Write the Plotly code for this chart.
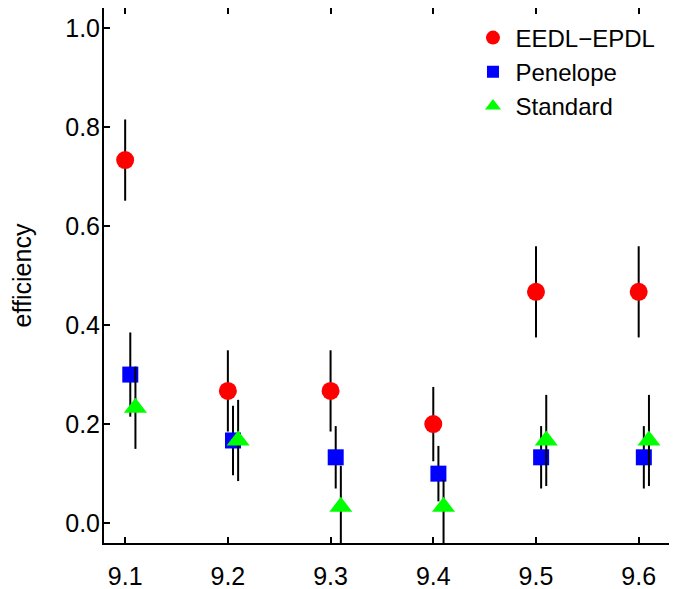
import plotly.graph_objects as go

# ---- data ----
energies = [9.1, 9.2, 9.3, 9.4, 9.5, 9.6]
eedl_eff = [0.733, 0.267, 0.267, 0.200, 0.467, 0.467]
eedl_err = [0.082, 0.082, 0.082, 0.075, 0.092, 0.092]
eedl_err_lo = [0.082, 0.082, 0.082, 0.075, 0.092, 0.092]
pen_eff = [0.300, 0.167, 0.133, 0.100, 0.133, 0.133]
pen_err = [0.085, 0.070, 0.063, 0.056, 0.063, 0.063]
pen_err_lo = [0.085, 0.070, 0.063, 0.056, 0.063, 0.063]
std_eff = [0.233, 0.167, 0.033, 0.033, 0.167, 0.167]
std_err = [0.083, 0.082, 0.083, 0.054, 0.092, 0.092]
std_err_lo = [0.083, 0.082, 0.083, 0.080, 0.092, 0.092]
pen_shift = 0.005
std_shift = 0.010
x_ticks = [9.1, 9.2, 9.3, 9.4, 9.5, 9.6]
y_ticks = [0.0, 0.2, 0.4, 0.6, 0.8, 1.0]

FONT = "Liberation Sans, Arial, Helvetica, sans-serif"

series = [
    ("EEDL\u2212EPDL", energies, eedl_eff, eedl_err, eedl_err_lo, "circle", "#ff0000", 18, 14),
    ("Penelope", [e + pen_shift for e in energies], pen_eff, pen_err, pen_err_lo, "square", "#0000ff", 16, 12),
    ("Standard", [e + std_shift for e in energies], std_eff, std_err, std_err_lo, "triangle-up", "#00ff00", 20, 14),
]

fig = go.Figure()
for name, xs, ys, errs, errs_lo, sym, col, size, lsize in series:
    fig.add_trace(go.Scatter(
        x=xs, y=ys, mode="markers", name=name, showlegend=False,
        marker=dict(symbol=sym, color=col, size=size, line=dict(width=0)),
        error_y=dict(type="data", symmetric=False, array=errs, arrayminus=errs_lo,
                     visible=True, color="black", thickness=2, width=0),
        cliponaxis=True,
    ))
for name, xs, ys, errs, errs_lo, sym, col, size, lsize in series:
    fig.add_trace(go.Scatter(
        x=[None], y=[None], mode="markers", name=name, showlegend=True,
        marker=dict(symbol=sym, color=col, size=lsize, line=dict(width=0)),
    ))

fig.update_layout(
    width=669, height=581,
    margin=dict(l=96, r=0, t=0, b=46, pad=0, autoexpand=False),
    paper_bgcolor="white", plot_bgcolor="white",
    font=dict(family=FONT, size=25, color="black"),
    showlegend=True,
    legend=dict(x=0.6396, y=0.986, xanchor="left", yanchor="top",
                bgcolor="rgba(0,0,0,0)", font=dict(size=24), itemwidth=35,
                tracegroupgap=0),
    xaxis=dict(range=[9.0794, 9.6373], tickvals=x_ticks, tickformat=".1f",
               ticks="inside", ticklen=6, tickwidth=1.5, tickcolor="black",
               showline=True, linecolor="black", linewidth=2, mirror="ticks",
               showgrid=False, zeroline=False, ticklabelstandoff=10, automargin=False),
    yaxis=dict(range=[-0.04, 1.04], tickvals=y_ticks, tickformat=".1f",
               ticks="inside", ticklen=6, tickwidth=1.5, tickcolor="black",
               showline=True, linecolor="black", linewidth=2, mirror=False,
               showgrid=False, zeroline=False, ticklabelstandoff=-3, automargin=False,
               title=dict(text="efficiency", standoff=31, font=dict(size=25))),
    yaxis2=dict(range=[-0.04, 1.04], tickvals=y_ticks, overlaying="y", side="right",
                ticks="inside", ticklen=6, tickwidth=1.5, tickcolor="black",
                showticklabels=False, showline=False, showgrid=False, zeroline=False,
                automargin=False),
)

fig.write_html("out.html")
